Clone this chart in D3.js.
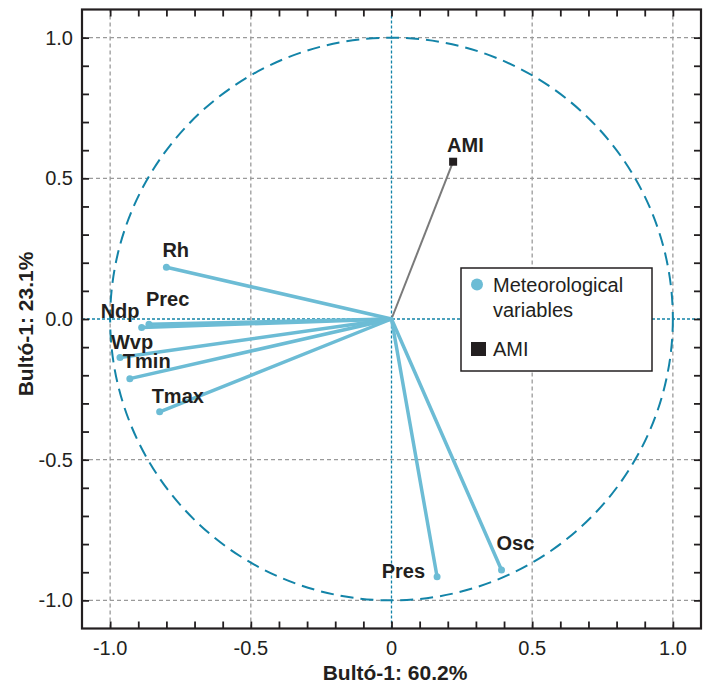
<!DOCTYPE html>
<html lang="en">
  <head>
    <meta charset="utf-8">
    <style>
    body { margin: 0; background: white; }
    text { font-family: "Liberation Sans", Arial, sans-serif; fill: #231f20; }
    </style>
    <script src="https://d3js.org/d3.v7.min.js"></script>
  </head>
  <body>
    <script type="text/javascript">

      // data
      var varNames = ["Rh", "Prec", "Ndp", "Wvp", "Tmin", "Tmax", "Pres", "Osc"];
      var pc1 = [-0.800, -0.862, -0.888, -0.965, -0.930, -0.824, 0.162, 0.391];
      var pc2 = [0.184, -0.019, -0.030, -0.137, -0.212, -0.330, -0.916, -0.892];
      var amiName = "AMI";
      var amiPc1 = 0.219;
      var amiPc2 = 0.559;
      var tickValues = [-1.0, -0.5, 0, 0.5, 1.0];
      var xTickLabels = ["-1.0", "-0.5", "0", "0.5", "1.0"];
      var yTickLabels = ["-1.0", "-0.5", "0.0", "0.5", "1.0"];
      var xTitle = "Bultó-1: 60.2%";
      var yTitle = "Bultó-1: 23.1%";
      var legendLabels = [["Meteorological", "variables"], ["AMI"]];

      // label placement (px, relative to the point)
      var labelOffset = {
        Rh: [-4, -10, "start"], Prec: [-3, -18, "start"], Ndp: [-41, -9, "start"],
        Wvp: [-9, -9, "start"], Tmin: [-7, -11, "start"], Tmax: [-8, -9, "start"],
        Pres: [-12, 1, "end"], Osc: [-5, -20, "start"], AMI: [-6, -10, "start"]
      };

      var w = 709, h = 686;
      var blue = "#6cbcd5", teal = "#1384a8", ink = "#231f20";

      var svg = d3.select("body").append("svg")
          .attr("width", w)
          .attr("height", h);

      svg.append("rect").attr("width", w).attr("height", h).attr("fill", "white");

      var x = d3.scaleLinear().domain([-1.1, 1.1]).range([82, 701]);
      var y = d3.scaleLinear().domain([-1.1, 1.1]).range([628.5, 9.5]);

      var minor = d3.range(-10, 11).map(function(i) { return i / 10; });

// grid lines
      var grid = svg.append("g");
      tickValues.filter(function(v) { return v != 0; }).forEach(function(v) {
        grid.append("line")
            .attr("x1", x(v)).attr("x2", x(v))
            .attr("y1", y.range()[0]).attr("y2", y.range()[1])
            .attr("stroke", "#9a9a9a").attr("stroke-width", 1.3)
            .attr("stroke-dasharray", "4,3");
        grid.append("line")
            .attr("y1", y(v)).attr("y2", y(v))
            .attr("x1", x.range()[0]).attr("x2", x.range()[1])
            .attr("stroke", "#9a9a9a").attr("stroke-width", 1.3)
            .attr("stroke-dasharray", "4,3");
      });
      grid.append("line")
          .attr("x1", x(0)).attr("x2", x(0))
          .attr("y1", y.range()[0]).attr("y2", y.range()[1])
          .attr("stroke", teal).attr("stroke-width", 1.3)
          .attr("stroke-dasharray", "3,2");
      grid.append("line")
          .attr("y1", y(0)).attr("y2", y(0))
          .attr("x1", x.range()[0]).attr("x2", x.range()[1])
          .attr("stroke", teal).attr("stroke-width", 1.3)
          .attr("stroke-dasharray", "3,2");

// correlation circle
      svg.append("circle")
          .attr("cx", x(0)).attr("cy", y(0))
          .attr("r", x(1) - x(0))
          .attr("fill", "none")
          .attr("stroke", teal).attr("stroke-width", 2)
          .attr("stroke-dasharray", "13,7");

// vectors
      var vars = varNames.map(function(n, i) { return {name: n, a: pc1[i], b: pc2[i]}; });

      svg.append("line")
          .attr("x1", x(0)).attr("y1", y(0))
          .attr("x2", x(amiPc1)).attr("y2", y(amiPc2))
          .attr("stroke", "#7a7a7a").attr("stroke-width", 2);

      svg.append("g").selectAll("line")
          .data(vars).enter().append("line")
          .attr("x1", x(0)).attr("y1", y(0))
          .attr("x2", function(d) { return x(d.a); })
          .attr("y2", function(d) { return y(d.b); })
          .attr("stroke", blue).attr("stroke-width", 3.5)
          .attr("stroke-linecap", "round");

      svg.append("g").selectAll("circle")
          .data(vars).enter().append("circle")
          .attr("cx", function(d) { return x(d.a); })
          .attr("cy", function(d) { return y(d.b); })
          .attr("r", 3.5)
          .attr("fill", blue);

      svg.append("rect")
          .attr("x", x(amiPc1) - 4).attr("y", y(amiPc2) - 4)
          .attr("width", 8).attr("height", 8)
          .attr("fill", ink);

// point labels
      var labels = svg.append("g")
          .style("font-size", "20px").style("font-weight", "bold");
      vars.concat([{name: amiName, a: amiPc1, b: amiPc2}]).forEach(function(d) {
        var o = labelOffset[d.name];
        labels.append("text")
            .attr("x", x(d.a) + o[0])
            .attr("y", y(d.b) + o[1])
            .attr("text-anchor", o[2])
            .text(d.name);
      });

// legend
      var lg = svg.append("g");
      lg.append("rect")
          .attr("x", 461).attr("y", 268).attr("width", 191).attr("height", 103)
          .attr("fill", "white").attr("stroke", ink).attr("stroke-width", 1.5);
      lg.append("circle").attr("cx", 477).attr("cy", 284.5).attr("r", 6).attr("fill", blue);
      lg.append("rect").attr("x", 471).attr("y", 342).attr("width", 15).attr("height", 14).attr("fill", ink);
      lg.append("text").attr("x", 493).attr("y", 291.5).style("font-size", "20px").text(legendLabels[0][0]);
      lg.append("text").attr("x", 493).attr("y", 316.5).style("font-size", "20px").text(legendLabels[0][1]);
      lg.append("text").attr("x", 493).attr("y", 356).style("font-size", "20px").text(legendLabels[1][0]);

// axes (ticks inside on all four sides)
      function frame(g) {
        g.select(".domain").remove();
        g.selectAll(".tick line").attr("stroke", ink).attr("stroke-width", 1.8);
      }
      svg.append("g").attr("transform", "translate(0," + y.range()[0] + ")")
          .call(d3.axisTop(x).tickValues(minor).tickSize(7).tickFormat(""))
          .call(frame);
      svg.append("g").attr("transform", "translate(0," + y.range()[1] + ")")
          .call(d3.axisBottom(x).tickValues(minor).tickSize(7).tickFormat(""))
          .call(frame);
      svg.append("g").attr("transform", "translate(" + x.range()[0] + ",0)")
          .call(d3.axisRight(y).tickValues(minor).tickSize(7).tickFormat(""))
          .call(frame);
      svg.append("g").attr("transform", "translate(" + x.range()[1] + ",0)")
          .call(d3.axisLeft(y).tickValues(minor).tickSize(7).tickFormat(""))
          .call(frame);

      svg.append("rect")
          .attr("x", x.range()[0]).attr("y", y.range()[1])
          .attr("width", x.range()[1] - x.range()[0])
          .attr("height", y.range()[0] - y.range()[1])
          .attr("fill", "none").attr("stroke", ink).attr("stroke-width", 2.2);

// tick labels
      svg.append("g").selectAll("text")
          .data(tickValues).enter().append("text")
          .attr("x", function(d) { return x(d); })
          .attr("y", 655)
          .attr("text-anchor", "middle")
          .style("font-size", "20px")
          .text(function(d, i) { return xTickLabels[i]; });

      svg.append("g").selectAll("text")
          .data(tickValues).enter().append("text")
          .attr("x", 73)
          .attr("y", function(d) { return y(d) + 7; })
          .attr("text-anchor", "end")
          .style("font-size", "20px")
          .text(function(d, i) { return yTickLabels[i]; });

// axis titles
      svg.append("text")
          .attr("x", 395).attr("y", 680)
          .attr("text-anchor", "middle")
          .style("font-size", "21px").style("font-weight", "bold")
          .text(xTitle);

      svg.append("text")
          .attr("transform", "translate(33,324) rotate(-90)")
          .attr("text-anchor", "middle")
          .style("font-size", "21px").style("font-weight", "bold")
          .text(yTitle);

    </script>
  </body>
</html>
